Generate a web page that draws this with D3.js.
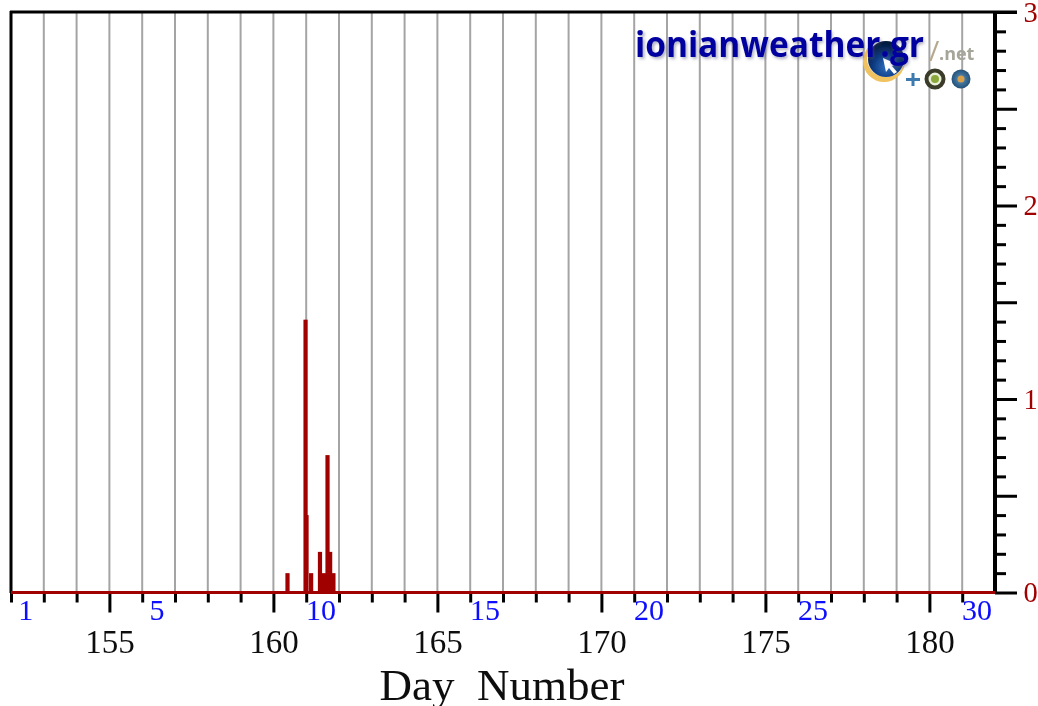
<!DOCTYPE html>
<html>
<head>
<meta charset="utf-8">
<script src="https://cdn.jsdelivr.net/npm/d3@7"></script>
<style>
html,body{margin:0;padding:0;background:#fff;overflow:hidden}
svg{display:block}
text{font-family:"Liberation Serif",serif}
</style>
</head>
<body>
<svg id="c" width="1038" height="706"></svg>
<script>
const rainDays   = [160.43,160.98,161.01,161.15,161.42,161.54,161.65,161.73,161.83];
const rainValues = [0.1,   1.41,  0.4,   0.1,   0.21,  0.1,   0.71,  0.21,  0.1];
const dayMajorTicks = [155,160,165,170,175,180];
const monthDays = [1,5,10,15,20,25,30];
const yLabels = [0,1,2,3];
const xAxisTitle = "Day  Number";
const logoName = "ionianweather.gr";
const logoSlash = "/";
const logoSuffix = ".net";

const svg = d3.select("#c");
const defs = svg.append("defs");
const soft = defs.append("filter").attr("id","soft").attr("x","-5%").attr("y","-5%").attr("width","110%").attr("height","110%");
soft.append("feGaussianBlur").attr("stdDeviation",0.6);
const blur2 = defs.append("filter").attr("id","sh");
blur2.append("feGaussianBlur").attr("stdDeviation",1.8);
const g1 = defs.append("radialGradient").attr("id","globe").attr("cx","50%").attr("cy","72%").attr("r","65%");
g1.append("stop").attr("offset","0").attr("stop-color","#2f6fc0");
g1.append("stop").attr("offset","0.55").attr("stop-color","#0c3a80");
g1.append("stop").attr("offset","1").attr("stop-color","#041a40");
const g2 = defs.append("radialGradient").attr("id","win").attr("cx","50%").attr("cy","50%").attr("r","55%");
g2.append("stop").attr("offset","0").attr("stop-color","#5a93c0");
g2.append("stop").attr("offset","1").attr("stop-color","#1d4a70");

const root = svg.append("g").attr("filter","url(#soft)");
const x = d3.scaleLinear().domain([152,182]).range([11,995]);
const y = d3.scaleLinear().domain([0,3]).range([592.5,12]);
const allDays = d3.range(152,183);

// gridlines
root.append("g").selectAll("line").data(allDays.slice(1,-1)).join("line")
  .attr("x1",d=>x(d)).attr("x2",d=>x(d)).attr("y1",12).attr("y2",592)
  .attr("stroke","#a4a4a4").attr("stroke-width",2);

// logo
const logo = root.append("g");
logo.append("circle").attr("cx",884).attr("cy",61).attr("r",21).attr("fill","#f0c260");
logo.append("circle").attr("cx",886).attr("cy",58).attr("r",19).attr("fill","#fff");
logo.append("circle").attr("cx",886).attr("cy",59).attr("r",18).attr("fill","url(#globe)");
logo.append("path").attr("d","M883 58l3 14 3-4 5 6 3-2-5-6 5-2z").attr("fill","#fff");
logo.append("text").attr("x",637).attr("y",59).attr("textLength",288).attr("lengthAdjust","spacingAndGlyphs")
  .attr("fill","#55557a").attr("opacity",.45).attr("filter","url(#sh)")
  .style("font-family","'Open Sans'").style("font-weight",700).style("font-size","35px").text(logoName);
logo.append("text").attr("x",635).attr("y",57).attr("textLength",289).attr("lengthAdjust","spacingAndGlyphs")
  .attr("fill","#0505a0")
  .style("font-family","'Open Sans'").style("font-weight",700).style("font-size","35px").text(logoName);
logo.append("text").attr("x",929).attr("y",61).attr("fill","#b5a88c")
  .style("font-family","'Open Sans'").style("font-size","28px").text(logoSlash);
logo.append("text").attr("x",939).attr("y",60).attr("fill","#a5a59a")
  .style("font-family","'Open Sans'").style("font-weight",700).style("font-size","18px").text(logoSuffix);
logo.append("path").attr("d","M906 79.5h14M913 73v13").attr("stroke","#3e7ab0").attr("stroke-width",3);
logo.append("circle").attr("cx",935).attr("cy",79).attr("r",8.5).attr("fill","#e8efd8").attr("stroke","#3a3a2a").attr("stroke-width",4);
logo.append("circle").attr("cx",935).attr("cy",79).attr("r",4).attr("fill","#8aa83a");
logo.append("circle").attr("cx",961).attr("cy",79).attr("r",9.5).attr("fill","url(#win)");
logo.append("circle").attr("cx",961).attr("cy",79).attr("r",3.5).attr("fill","#d8a04a");

// frame top and left
root.append("line").attr("x1",10).attr("x2",1017).attr("y1",12).attr("y2",12).attr("stroke","#000").attr("stroke-width",3);
root.append("line").attr("x1",11).attr("x2",11).attr("y1",11).attr("y2",593).attr("stroke","#000").attr("stroke-width",3);

// bottom axis
const tickSel = (g)=>{g.select(".domain").remove();g.selectAll("line").attr("stroke","#000").attr("stroke-width",3);};
root.append("g").attr("transform","translate(0,592.5)")
  .call(d3.axisBottom(x).tickValues(allDays.filter(d=>d<182&&!dayMajorTicks.includes(d))).tickSize(10).tickFormat(""))
  .call(tickSel);
const bm = root.append("g").attr("transform","translate(0,592.5)")
  .call(d3.axisBottom(x).tickValues(dayMajorTicks).tickSize(20).tickPadding(17).tickFormat(d3.format("d")))
  .call(tickSel);
bm.selectAll("text").attr("fill","#111").style("font-size","33px").style("font-family","'Liberation Serif'");

// month day labels
root.append("g").selectAll("text").data(monthDays).join("text")
  .attr("x",d=>x(151+d+0.45)).attr("y",620).attr("text-anchor","middle")
  .attr("fill","#0a0aff").style("font-size","30px").text(d=>d);

// right axis
const minor = d3.range(1,30).filter(i=>i%5!==0).map(i=>i/10);
const major = d3.range(0,7).map(i=>i/2);
root.append("g").attr("transform","translate(995,0)")
  .call(d3.axisRight(y).tickValues(minor).tickSize(11).tickFormat("")).call(tickSel);
const rm = root.append("g").attr("transform","translate(995,0)")
  .call(d3.axisRight(y).tickValues(major).tickSize(22).tickPadding(6.5).tickFormat(d=>yLabels.includes(d)?d:""))
  .call(tickSel);
rm.selectAll("text").attr("fill","#a00000").style("font-size","28.5px").style("font-family","'Liberation Serif'");
root.append("line").attr("x1",995).attr("x2",995).attr("y1",11).attr("y2",593).attr("stroke","#000").attr("stroke-width",4);

// rain bars and baseline
root.append("g").selectAll("rect").data(rainDays).join("rect")
  .attr("x",d=>x(d)-2.1).attr("width",4.2)
  .attr("y",(d,i)=>y(rainValues[i])).attr("height",(d,i)=>y(0)-y(rainValues[i]))
  .attr("fill","#a00000");
root.append("line").attr("x1",x(152)).attr("x2",x(182)).attr("y1",y(0)).attr("y2",y(0))
  .attr("stroke","#a00000").attr("stroke-width",3);

// axis title
root.append("text").attr("x",502).attr("y",700).attr("text-anchor","middle")
  .attr("fill","#111").style("font-size","45px").style("white-space","pre").attr("xml:space","preserve").text(xAxisTitle);
</script>
</body>
</html>
